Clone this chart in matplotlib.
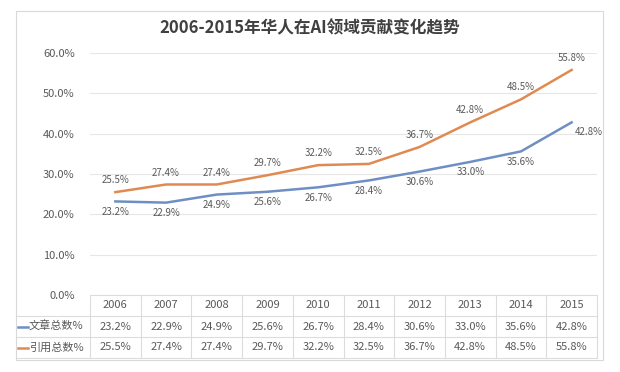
import matplotlib.pyplot as plt
from matplotlib.patches import Rectangle

plt.rcParams['font.family'] = ['Noto Sans CJK SC', 'DejaVu Sans']

years = ['2006', '2007', '2008', '2009', '2010', '2011', '2012', '2013', '2014', '2015']
articles = [23.2, 22.9, 24.9, 25.6, 26.7, 28.4, 30.6, 33.0, 35.6, 42.8]
citations = [25.5, 27.4, 27.4, 29.7, 32.2, 32.5, 36.7, 42.8, 48.5, 55.8]
series_names = ['文章总数%', '引用总数%']
yticks = [0, 10, 20, 30, 40, 50, 60]

blue = '#6f8fc4'
orange = '#e08a52'
txt = '#595959'
grid = '#e6e6e6'

fig = plt.figure(figsize=(6.2, 3.72), dpi=100)

# chart frame
fig.patches.append(Rectangle((16 / 620, 1 - 360 / 372), 587 / 620, 349 / 372,
                             transform=fig.transFigure, fill=False,
                             edgecolor='#d9d9d9', linewidth=0.8))

fig.text(310 / 620, 1 - 28 / 372, '2006-2015年华人在AI领域贡献变化趋势',
         ha='center', va='center', fontsize=12, fontweight='bold', color='#404040')

ax = fig.add_axes([90 / 620, 1 - 295 / 372, 507 / 620, 242 / 372])
x = list(range(len(years)))
ax.plot(x, articles, color=blue, linewidth=1.8)
ax.plot(x, citations, color=orange, linewidth=1.8)
ax.set_xlim(-0.5, len(years) - 0.5)
ax.set_ylim(0, 60)
ax.set_yticks(yticks)
ax.set_yticklabels([f'{v:.1f}%' for v in yticks], fontsize=8, color=txt)
ax.tick_params(axis='y', length=0, pad=11)
ax.set_xticks([])
ax.grid(axis='y', color=grid, linewidth=0.8)
ax.set_axisbelow(True)
for s in ax.spines.values():
    s.set_visible(False)

for i, (a, c) in enumerate(zip(articles, citations)):
    ax.annotate(f'{c:.1f}%', (i, c), xytext=(0, 5), textcoords='offset points',
                ha='center', va='bottom', fontsize=7, color=txt)
    if i == len(years) - 1:
        ax.annotate(f'{a:.1f}%', (i, a), xytext=(12, -7), textcoords='offset points',
                    ha='center', va='center', fontsize=7, color=txt)
    else:
        ax.annotate(f'{a:.1f}%', (i, a), xytext=(0, -4), textcoords='offset points',
                    ha='center', va='top', fontsize=7, color=txt)

# data table
tb = fig.add_axes([90 / 620, 1 - 358 / 372, 507 / 620, 63 / 372])
tb.set_xlim(-0.5, len(years) - 0.5)
tb.set_ylim(3, 0)
tb.axis('off')
colw = 50.7
left = -0.5 - 74 / colw
line_kw = dict(color='#dcdcdc', linewidth=0.8, clip_on=False)
tb.plot([-0.5, len(years) - 0.5], [0, 0], **line_kw)
for r in (1, 2, 3):
    tb.plot([left, len(years) - 0.5], [r, r], **line_kw)
for k in range(len(years) + 1):
    tb.plot([k - 0.5, k - 0.5], [0, 3], **line_kw)

for i, yr in enumerate(years):
    tb.text(i, 0.5, yr, ha='center', va='center', fontsize=8, color=txt)
    tb.text(i, 1.5, f'{articles[i]:.1f}%', ha='center', va='center', fontsize=8, color=txt)
    tb.text(i, 2.5, f'{citations[i]:.1f}%', ha='center', va='center', fontsize=8, color=txt)

for r, (name, col) in enumerate(zip(series_names, [blue, orange])):
    row = r + 1.5
    tb.plot([left + 2 / colw, left + 12 / colw], [row, row], color=col, linewidth=1.8,
            clip_on=False)
    tb.text(left + 13 / colw, row, name, ha='left', va='center', fontsize=8, color=txt)

fig.savefig('out.png', dpi=100)
